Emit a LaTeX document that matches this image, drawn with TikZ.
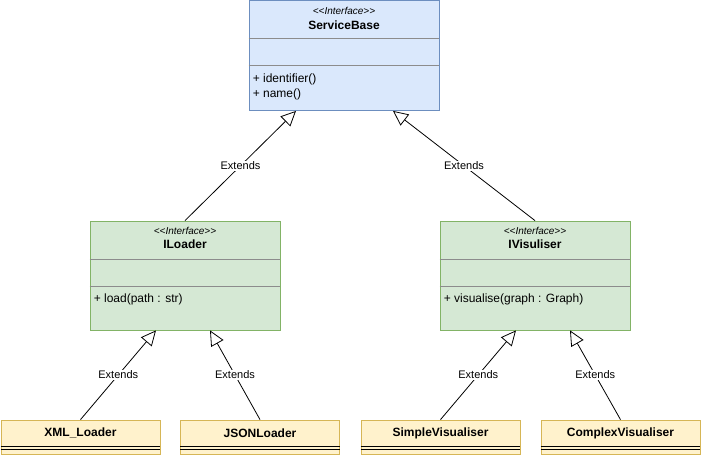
\documentclass[tikz,border=0pt]{standalone}
\usepackage{fontspec}
\setmainfont{Liberation Sans}
\usepackage{tikz}
\usetikzlibrary{arrows.meta,calc}

\definecolor{blueFill}{HTML}{DAE8FC}
\definecolor{blueLine}{HTML}{6C8EBF}
\definecolor{greenFill}{HTML}{D5E8D4}
\definecolor{greenLine}{HTML}{82B366}
\definecolor{yellowFill}{HTML}{FFF2CC}
\definecolor{yellowLine}{HTML}{D6B656}

\tikzset{
	ibox/.style={draw, line width=0.8pt, minimum width=190pt, minimum height=110pt, inner sep=0pt},
	leafbox/.style={draw=yellowLine, fill=yellowFill, line width=0.8pt, minimum width=159pt, minimum height=34pt, inner sep=0pt},
	stereo/.style={font=\fontsize{10}{12}\selectfont\itshape, inner sep=0pt},
	title/.style={font=\fontsize{12}{14}\selectfont\bfseries, inner sep=0pt},
	member/.style={font=\fontsize{12}{14}\selectfont, anchor=west, inner sep=0pt},
	sep/.style={draw=black!45, line width=0.8pt},
	extends/.style={line width=0.8pt, -{Triangle[fill=white,length=15pt,width=14pt]}},
	lbl/.style={fill=white, font=\fontsize{11}{13}\selectfont, inner sep=1pt}
}
\newcommand{\ifacetag}{<{}<Interface>{}>}

\begin{document}
\begin{tikzpicture}[x=1pt,y=-1pt]
		\useasboundingbox[fill=white] (0,0) rectangle (701,455);
		% interfaces
		\node[ibox, draw=blueLine, fill=blueFill] (base) at (344,55.5) {};
		\node[ibox, draw=greenLine, fill=greenFill, minimum height=109pt] (iloader) at (185,275.5) {};
		\node[ibox, draw=greenLine, fill=greenFill, minimum height=109pt] (ivis) at (535,275.5) {};
		\node[stereo] (baseS) at ($(base.north)+(0,11)$) {\ifacetag};
		\node[title] (baseT) at ($(base.north)+(0,25)$) {ServiceBase};
		\node[stereo] (iloaderS) at ($(iloader.north)+(0,10)$) {\ifacetag};
		\node[title] (iloaderT) at ($(iloader.north)+(0,24)$) {ILoader};
		\node[stereo] (ivisS) at ($(ivis.north)+(0,10)$) {\ifacetag};
		\node[title] (ivisT) at ($(ivis.north)+(0,24)$) {IVisuliser};
		\foreach \b in {base,iloader,ivis}{
			\draw[sep] ($(\b.north west)+(0,38.5)$) -- ($(\b.north east)+(0,38.5)$);
			\draw[sep] ($(\b.north west)+(0,65.5)$) -- ($(\b.north east)+(0,65.5)$);
		}
		\node[member] (baseM1) at ($(base.north west)+(4,79.5)$) {+ identifier()};
		\node[member] (baseM2) at ($(base.north west)+(4,94.5)$) {+ name()};
		\node[member] (iloaderM) at ($(iloader.north west)+(4,79)$) {+ load(path : str)};
		\node[member] (ivisM) at ($(ivis.north west)+(4,79)$) {+ visualise(graph : Graph)};
		% classes
		\node[leafbox] (xml) at (80.5,437) {};
		\node[leafbox] (json) at (260,437) {};
		\node[leafbox] (simple) at (440.5,437) {};
		\node[leafbox] (complex) at (620.5,437) {};
		\foreach \c/\t in {xml/XML\_Loader,json/JSONLoader,simple/SimpleVisualiser,complex/ComplexVisualiser}{
			\node[title] (\c T) at ($(\c.north)+(0,13.5)$) {\t};
			\draw[line width=0.8pt] ($(\c.north west)+(0,27)$) -- ($(\c.north east)+(0,27)$);
			\draw[line width=0.8pt] ($(\c.north west)+(0,30)$) -- ($(\c.north east)+(0,30)$);
		}
		% generalisations
		\coordinate (baseL) at ($(base.south)+(-48,0)$);
		\coordinate (baseR) at ($(base.south)+(49,0)$);
		\coordinate (iloaderL) at ($(iloader.south)+(-29,0)$);
		\coordinate (iloaderR) at ($(iloader.south)+(25,0)$);
		\coordinate (ivisL) at ($(ivis.south)+(-19,0)$);
		\coordinate (ivisR) at ($(ivis.south)+(35,0)$);
		\draw[extends] (iloader.north) -- node[lbl] {Extends} (baseL);
		\draw[extends] (ivis.north) -- node[lbl] {Extends} (baseR);
		\draw[extends] (xml.north) -- node[lbl] {Extends} (iloaderL);
		\draw[extends] (json.north) -- node[lbl] {Extends} (iloaderR);
		\draw[extends] (simple.north) -- node[lbl] {Extends} (ivisL);
		\draw[extends] (complex.north) -- node[lbl] {Extends} (ivisR);
	\end{tikzpicture}
\end{document}
